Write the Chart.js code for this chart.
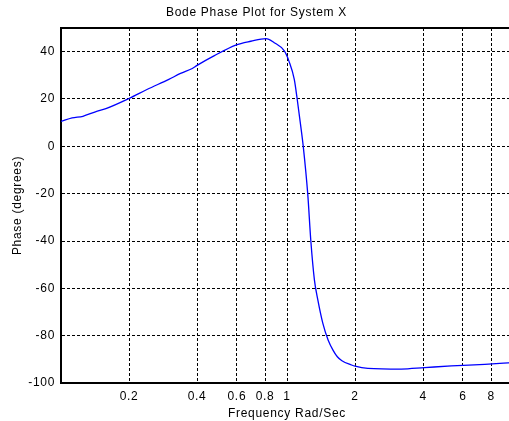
<!DOCTYPE html>
<html>
<head>
<meta charset="utf-8">
<script src="https://cdn.jsdelivr.net/npm/chart.js@4/dist/chart.umd.min.js"></script>
<style>
  html, body { margin: 0; padding: 0; background: #fff; overflow: hidden; }
  #wrap { width: 509px; height: 421px; overflow: hidden; }
</style>
</head>
<body>
<div id="wrap"><canvas id="bode" width="513" height="421"></canvas></div>
<script>
// data
var freq = [0.1, 0.112, 0.125, 0.142, 0.158, 0.2, 0.24, 0.3, 0.338, 0.381, 0.4, 0.475, 0.593, 0.692, 0.807,
            0.878, 0.973, 1.02, 1.077, 1.11, 1.145, 1.18, 1.235, 1.275, 1.322, 1.369, 1.44, 1.52, 1.6,
            1.67, 1.75, 1.93, 2.0, 2.28, 3.2, 4.06, 5.34, 7.5, 10];
var phase = [10.5, 12, 12.7, 14.6, 15.9, 20.2, 24, 28.3, 30.8, 32.9, 34.2, 38.2, 42.8, 44.4, 45.5,
             43.8, 40.3, 36.0, 28.3, 19.8, 10, 0, -20, -40, -56.4, -64.9, -74.7, -81.8, -86.2,
             -88.9, -90.6, -92.4, -92.9, -93.8, -94.1, -93.5, -92.8, -92.1, -91.4];
var xTicks = [0.2, 0.4, 0.6, 0.8, 1, 2, 4, 6, 8];
var yTicks = [-100, -80, -60, -40, -20, 0, 20, 40];

var font = { family: '"Liberation Sans", Arial, sans-serif', size: 12, weight: 'normal' };

// matlab-ish box: top edge line + slightly wider lettering
var boxPlugin = {
    id: 'box',
    beforeDraw: function (chart) {
        chart.ctx.letterSpacing = '0.7px';
    },
    afterDraw: function (chart) {
        var a = chart.chartArea, ctx = chart.ctx;
        ctx.save();
        ctx.strokeStyle = '#000';
        ctx.lineWidth = 2;
        ctx.beginPath();
        ctx.moveTo(a.left - 1, a.top);
        ctx.lineTo(a.right, a.top);
        ctx.stroke();
        ctx.restore();
    }
};

var ctx = document.getElementById('bode').getContext('2d');
var chart = new Chart(ctx, {
    type: 'line',
    data: {
        datasets: [{
            data: freq.map(function (f, i) { return { x: f, y: phase[i] }; }),
            borderColor: '#0000ff',
            borderWidth: 1.3,
            pointRadius: 0,
            cubicInterpolationMode: 'monotone',
            fill: false
        }]
    },
    options: {
        responsive: false,
        animation: false,
        layout: { padding: 0 },
        plugins: {
            legend: { display: false },
            tooltip: { enabled: false },
            title: {
                display: true,
                text: 'Bode Phase Plot for System X',
                color: '#000',
                font: font,
                padding: { top: 5, bottom: 8.6 }
            }
        },
        scales: {
            x: {
                type: 'logarithmic',
                min: 0.1,
                max: 10,
                afterBuildTicks: function (scale) {
                    scale.ticks = xTicks.map(function (v) { return { value: v }; });
                },
                afterFit: function (scale) { scale.height = 38; },
                ticks: {
                    color: '#000',
                    font: font,
                    padding: 6,
                    autoSkip: false,
                    maxRotation: 0,
                    callback: function (v) { return String(v); }
                },
                grid: { color: '#000', lineWidth: 1, drawTicks: false },
                // in v4 border.dash dashes the grid lines
                border: { display: true, color: '#000', width: 2, dash: [3, 2] },
                title: {
                    display: true,
                    text: 'Frequency Rad/Sec',
                    color: '#000',
                    font: font,
                    padding: { top: 0, bottom: 0.5 }
                }
            },
            y: {
                min: -100,
                max: 50,
                afterBuildTicks: function (scale) {
                    scale.ticks = yTicks.map(function (v) { return { value: v }; });
                },
                afterFit: function (scale) { scale.width = 61; },
                ticks: { color: '#000', font: font, padding: 6 },
                grid: { color: '#000', lineWidth: 1, drawTicks: false },
                border: { display: true, color: '#000', width: 2, dash: [3, 2] },
                title: {
                    display: true,
                    text: 'Phase (degrees)',
                    color: '#000',
                    font: font,
                    padding: { top: 10.4, bottom: 0 }
                }
            }
        }
    },
    plugins: [boxPlugin]
});
</script>
</body>
</html>
